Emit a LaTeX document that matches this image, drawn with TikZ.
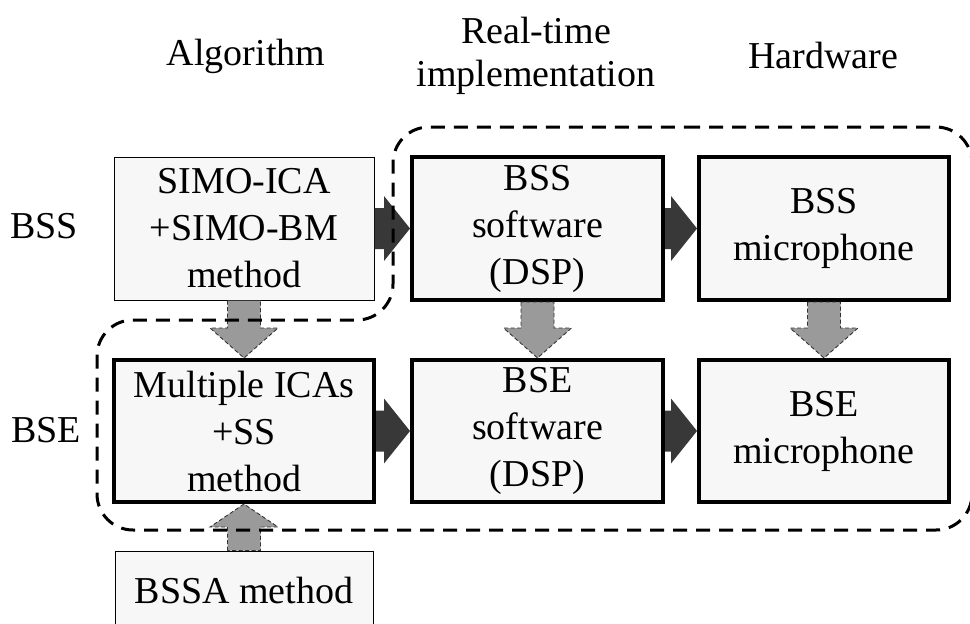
\documentclass[tikz,border=0pt]{standalone}
\usepackage{fontspec}
\setmainfont{Liberation Serif}
\usetikzlibrary{calc}
\definecolor{boxfill}{HTML}{F7F7F7}
\definecolor{darkarrow}{HTML}{383838}
\definecolor{grayarrow}{HTML}{9A9A9A}
\newcommand\darkarrowR[2]{%
  \fill[darkarrow] ($(#1.east)+(0,-20.5)$) -- ($(#2.west)+(-26,-20.5)$) -- ($(#2.west)+(-26,-32.5)$) -- (#2.west)
    -- ($(#2.west)+(-26,32.5)$) -- ($(#2.west)+(-26,20.5)$) -- ($(#1.east)+(0,20.5)$) -- cycle;}
\newcommand\grayarrowD[3]{% from, to, head length
  \filldraw[grayarr] ($(#1.south)+(-16.5,0)$) -- ($(#2.north)+(-16.5,-#3)$) -- ($(#2.north)+(-34,-#3)$) -- (#2.north)
    -- ($(#2.north)+(34,-#3)$) -- ($(#2.north)+(16.5,-#3)$) -- ($(#1.south)+(16.5,0)$) -- cycle;}
\newcommand\grayarrowU[3]{% from (below), to (above), head length
  \filldraw[grayarr] ($(#1.north)+(-16.5,0)$) -- ($(#2.south)+(-16.5,#3)$) -- ($(#2.south)+(-34,#3)$) -- (#2.south)
    -- ($(#2.south)+(34,#3)$) -- ($(#2.south)+(16.5,#3)$) -- ($(#1.north)+(16.5,0)$) -- cycle;}
\begin{document}
\begin{tikzpicture}[x=1pt,y=-1pt,
  box/.style={draw=black, fill=boxfill, inner sep=0pt, align=center, font=\fontsize{38}{47}\selectfont},
  thickbox/.style={box, line width=4pt},
  thinbox/.style={box, line width=1pt},
  lbl/.style={inner sep=0pt, align=center, font=\fontsize{38}{43}\selectfont},
  grayarr/.style={fill=grayarrow, draw=black!80, line width=0.9pt, dash pattern=on 4pt off 2.5pt},
  outline/.style={draw=black, line width=3pt, dash pattern=on 14pt off 9pt, rounded corners=36pt}
]
\useasboundingbox (0,0) rectangle (970,624);

% headers
\node[lbl] (hAlg) at (246,56) {Algorithm};
\node[lbl] (hRT) at (536,56) {Real-time\\implementation};
\node[lbl] (hHW) at (823,56) {Hardware};

% row labels
\node[lbl] (lBSS) at (44,226) {BSS};
\node[lbl] (lBSE) at (46,430) {BSE};

% boxes
\node[thinbox, minimum width=260pt, minimum height=143pt] (alg1) at (244,228.5) {SIMO-ICA\\+SIMO-BM\\method};
\node[thickbox, minimum width=251pt, minimum height=143pt] (sw1) at (537.5,228.5) {BSS\\software\\(DSP)};
\node[thickbox, minimum width=250pt, minimum height=143pt] (hw1) at (824,228.5) {BSS\\microphone};
\node[thickbox, minimum width=260pt, minimum height=142pt] (alg2) at (244,431) {Multiple ICAs\\+SS\\method};
\node[thickbox, minimum width=251pt, minimum height=142pt] (sw2) at (537.5,431) {BSE\\software\\(DSP)};
\node[thickbox, minimum width=250pt, minimum height=142pt] (hw2) at (824,431) {BSE\\microphone};
\node[thinbox, minimum width=258pt, minimum height=78pt] (bssa) at (244,590) {BSSA method};

% dark arrows
\darkarrowR{alg1}{sw1}
\darkarrowR{sw1}{hw1}
\darkarrowR{alg2}{sw2}
\darkarrowR{sw2}{hw2}

% gray arrows
\grayarrowD{alg1}{alg2}{30}
\grayarrowD{sw1}{sw2}{30}
\grayarrowD{hw1}{hw2}{30}
\grayarrowU{bssa}{alg2}{23}

% dashed outline
\draw[outline] (650,127) -- (972,127) -- (972,530) -- (97,530) -- (97,320) -- (393,320) -- (393,127) -- cycle;
\end{tikzpicture}
\end{document}
